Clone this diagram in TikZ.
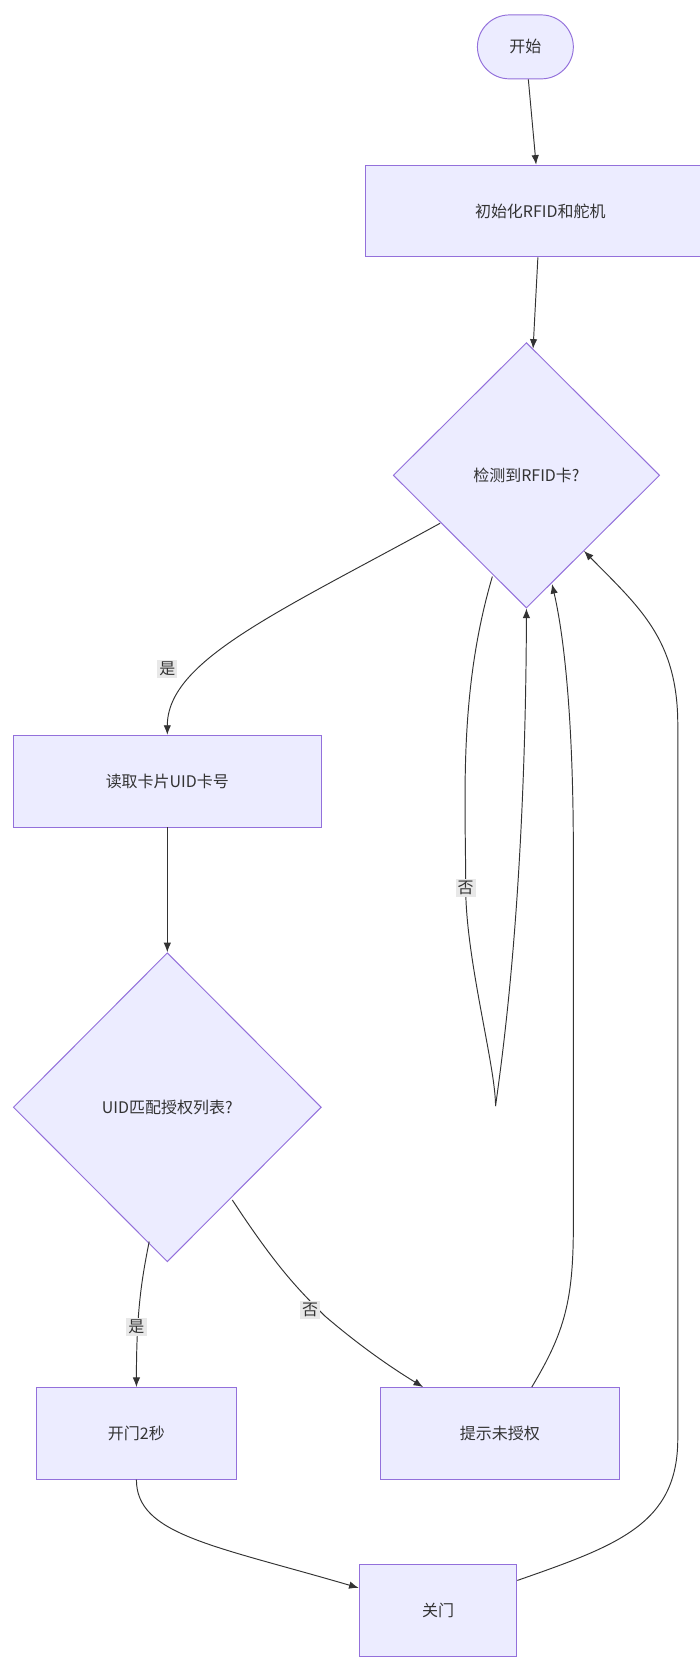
\documentclass[tikz,border=0pt]{standalone}
\usepackage{fontspec}
\setmainfont{Noto Sans CJK SC}
\usetikzlibrary{shapes.geometric,arrows.meta,calc}
\definecolor{nf}{HTML}{ECECFF}
\definecolor{ns}{HTML}{9370DB}
\definecolor{tx}{HTML}{333333}
\definecolor{lb}{HTML}{E8E8E8}
\begin{document}
\begin{tikzpicture}[x=1pt,y=-1pt,font=\fontsize{15}{18}\selectfont,text=tx,
  box/.style={draw=ns,fill=nf,line width=0.9pt,inner sep=0pt},
  edge/.style={draw=tx,line width=0.9pt,-{Latex[length=9pt,width=7pt]}},
  lab/.style={fill=lb,inner sep=2pt,text=tx}]
\useasboundingbox (0,0) rectangle (656,1568);
\node[box,rounded corners=30pt,minimum width=90pt,minimum height=60pt] (start) at (493,44) {开始};
\node[box,minimum width=328pt,minimum height=86pt] (init) at (507,198) {初始化RFID和舵机};
\node[box,diamond,minimum width=250pt,minimum height=249pt] (d1) at (494,446) {检测到RFID卡?};
\node[box,minimum width=289pt,minimum height=86pt] (read) at (157,733) {读取卡片UID卡号};
\node[box,diamond,minimum width=289pt,minimum height=290pt] (d2) at (157,1039) {UID匹配授权列表?};
\node[box,minimum width=187pt,minimum height=86pt] (open) at (128,1345) {开门2秒};
\node[box,minimum width=224pt,minimum height=86pt] (deny) at (469,1345) {提示未授权};
\node[box,minimum width=148pt,minimum height=86pt] (close) at (411,1511) {关门};
\coordinate (c1) at (413,491);
\coordinate (c2) at (462,541);
\coordinate (c3) at (518,548);
\coordinate (c4) at (548,517);
\coordinate (c5) at (140,1165);
\coordinate (c6) at (218,1126);
\draw[edge] (start) -- (init);
\draw[edge] (init) -- (d1);
\draw[edge] (c1) .. controls (260,575) and (157,620) .. (read.north);
\node[lab] at (157,628) {是};
\draw[edge] (c2) .. controls (430,650) and (437,750) .. (437,833) .. controls (437,900) and (465,1000) .. (465,1038) .. controls (470,1000) and (493,850) .. (d1.south);
\node[lab] at (437,833) {否};
\draw[edge] (read) -- (d2);
\draw[edge] (c5) .. controls (133,1200) and (128,1230) .. (open.north);
\node[lab] at (128,1245) {是};
\draw[edge] (c6) .. controls (260,1190) and (280,1210) .. (305,1235) .. controls (340,1265) and (370,1285) .. ($(deny.north)+(-72,0)$);
\node[lab] at (291,1229) {否};
\draw[edge] ($(deny.north)+(30,0)$) .. controls (530,1250) and (538,1220) .. (538,1150) -- (538,800) .. controls (538,680) and (530,600) .. (c3);
\draw[edge] (open.south) .. controls (128,1440) and (200,1450) .. (close.west |- 0,1490);
\draw[edge] (close.east |- 0,1483) .. controls (580,1450) and (636,1430) .. (636,1350) -- (636,680) .. controls (636,600) and (600,570) .. (c4);
\end{tikzpicture}
\end{document}
